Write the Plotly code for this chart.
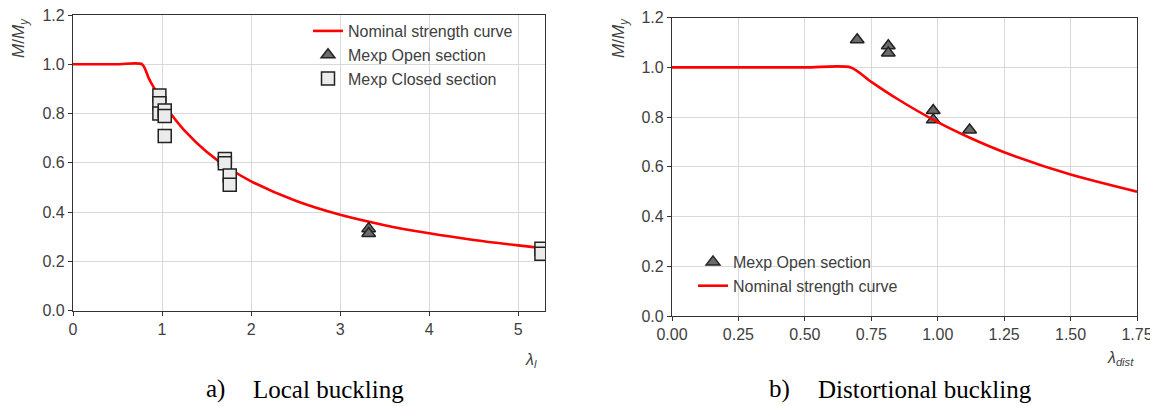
import plotly.graph_objects as go

# ---- data ----
# Local buckling: nominal strength curve
lam_local_curve = [0, 0.5, 0.776, 0.85, 0.9, 1.0, 1.1, 1.25, 1.5, 1.75, 2.0, 2.5, 3.0, 3.5, 4.0, 4.5, 5.0, 5.3]
m_local_curve = [1.0, 1.0, 1.0, 0.944, 0.910, 0.850, 0.798, 0.732, 0.645, 0.578, 0.525, 0.446, 0.389, 0.347, 0.314, 0.287, 0.265, 0.253]
# Local buckling: experiments
lam_local_open = [3.32, 3.32]
m_local_open = [0.333, 0.313]
lam_local_closed = [0.97, 0.97, 0.97, 1.03, 1.03, 1.03, 1.705, 1.705, 1.76, 1.76, 5.26, 5.26]
m_local_closed = [0.873, 0.842, 0.80, 0.812, 0.79, 0.709, 0.616, 0.598, 0.549, 0.511, 0.251, 0.231]

# Distortional buckling: nominal strength curve
lam_dist_curve = [0, 0.5, 0.673, 0.75, 0.85, 1.0, 1.125, 1.25, 1.5, 1.75]
m_dist_curve = [1.0, 1.0, 1.0, 0.942, 0.872, 0.780, 0.715, 0.659, 0.569, 0.500]
# Distortional buckling: experiments (open section)
lam_dist_open = [0.697, 0.814, 0.814, 0.983, 0.983, 1.12]
m_dist_open = [1.111, 1.087, 1.058, 0.827, 0.789, 0.748]

x_ticks_local = [0, 1, 2, 3, 4, 5]
x_ticks_dist = [0.00, 0.25, 0.50, 0.75, 1.00, 1.25, 1.50, 1.75]
y_ticks = [0.0, 0.2, 0.4, 0.6, 0.8, 1.0, 1.2]

# the page body has an 8px margin: build the figure 8px smaller and shift coordinates
OFF = 8
W, H = 1158 - OFF, 406 - OFF
def px(x):
    return (x - OFF) / W
def py(y):
    return 1 - (y - OFF) / H

RED = "#ff0000"
TRI_FILL = "#6b6b6b"
SQ_FILL = "#ebebeb"
EDGE = "#222222"
AX = "#333333"
GRID = "#d9d9d9"
TXT = "#404040"
FONT = "Liberation Sans, Arial, sans-serif"

fig = go.Figure()

# left panel
fig.add_trace(go.Scatter(x=lam_local_curve, y=m_local_curve, mode="lines",
                         line=dict(color=RED, width=2.6, shape="spline", smoothing=0.7),
                         name="Nominal strength curve", xaxis="x", yaxis="y", legend="legend"))
fig.add_trace(go.Scatter(x=lam_local_open, y=m_local_open, mode="markers",
                         marker=dict(symbol="triangle-up", size=12, color=TRI_FILL,
                                     line=dict(color=EDGE, width=1.5)),
                         name="Mexp Open section", xaxis="x", yaxis="y", legend="legend"))
fig.add_trace(go.Scatter(x=lam_local_closed, y=m_local_closed, mode="markers",
                         marker=dict(symbol="square", size=13, color=SQ_FILL,
                                     line=dict(color=EDGE, width=1.5)),
                         name="Mexp Closed section", xaxis="x", yaxis="y", legend="legend"))

# right panel
fig.add_trace(go.Scatter(x=lam_dist_open, y=m_dist_open, mode="markers",
                         marker=dict(symbol="triangle-up", size=12, color=TRI_FILL,
                                     line=dict(color=EDGE, width=1.5)),
                         name="Mexp Open section", xaxis="x2", yaxis="y2", legend="legend2"))
fig.add_trace(go.Scatter(x=lam_dist_curve, y=m_dist_curve, mode="lines",
                         line=dict(color=RED, width=2.6, shape="spline", smoothing=0.7),
                         name="Nominal strength curve", xaxis="x2", yaxis="y2", legend="legend2"))

axis_common = dict(showline=True, linecolor=AX, linewidth=1.3, mirror=True,
                   ticks="outside", ticklen=4, tickcolor=AX, tickwidth=1,
                   showgrid=True, gridcolor=GRID, gridwidth=1, zeroline=False,
                   automargin=False, ticklabeloverflow="allow",
                   tickfont=dict(family=FONT, size=16, color=TXT))

fig.update_layout(
    template="none",
    width=W, height=H,
    margin=dict(l=0, r=0, t=0, b=0, pad=0),
    paper_bgcolor="white", plot_bgcolor="white",
    showlegend=True,
    xaxis=dict(domain=[px(73), px(545)], range=[0, 5.3], tickvals=x_ticks_local,
               ticktext=[str(v) for v in x_ticks_local], anchor="y", **axis_common),
    yaxis=dict(domain=[py(310.7), py(15)], range=[0, 1.2], tickvals=y_ticks,
               ticktext=[f"{v:.1f}" for v in y_ticks], anchor="x", **axis_common),
    xaxis2=dict(domain=[px(672), px(1137)], range=[0, 1.75], tickvals=x_ticks_dist,
                ticktext=[f"{v:.2f}" for v in x_ticks_dist], anchor="y2", **axis_common),
    yaxis2=dict(domain=[py(316), py(17.7)], range=[0, 1.2], tickvals=y_ticks,
                ticktext=[f"{v:.1f}" for v in y_ticks], anchor="x2", **axis_common),
    legend=dict(x=px(308), y=py(14), xanchor="left", yanchor="top",
                bgcolor="rgba(0,0,0,0)", borderwidth=0, traceorder="normal",
                font=dict(family=FONT, size=16, color=TXT)),
    legend2=dict(x=px(693), y=py(245), xanchor="left", yanchor="top",
                 bgcolor="rgba(0,0,0,0)", borderwidth=0, traceorder="normal",
                 font=dict(family=FONT, size=16, color=TXT)),
)

ann = []
# y-axis titles
for xc in (20, 620):
    ann.append(dict(x=px(xc), y=py(38), xref="paper", yref="paper", showarrow=False,
                    text="<i>M</i>/<i>M<sub>y</sub></i>", textangle=-90,
                    font=dict(family=FONT, size=17, color=TXT),
                    xanchor="center", yanchor="middle"))
# x-axis titles
ann.append(dict(x=px(531), y=py(360), xref="paper", yref="paper", showarrow=False,
                text="<i>λ<sub>l</sub></i>", font=dict(family=FONT, size=16, color=TXT),
                xanchor="center", yanchor="middle"))
ann.append(dict(x=px(1120), y=py(358), xref="paper", yref="paper", showarrow=False,
                text="<i>λ<sub>dist</sub></i>", font=dict(family=FONT, size=16, color=TXT),
                xanchor="center", yanchor="middle"))
# captions
SERIF = "Liberation Serif, Times New Roman, serif"
for xl, t in ((205, "a)"), (252, "Local buckling"), (768, "b)"), (817, "Distortional buckling")):
    ann.append(dict(x=px(xl), y=py(389), xref="paper", yref="paper", showarrow=False,
                    text=t, font=dict(family=SERIF, size=25, color="black"),
                    xanchor="left", yanchor="middle", xshift=-1))
fig.update_layout(annotations=ann)

fig.write_html("out.html")
